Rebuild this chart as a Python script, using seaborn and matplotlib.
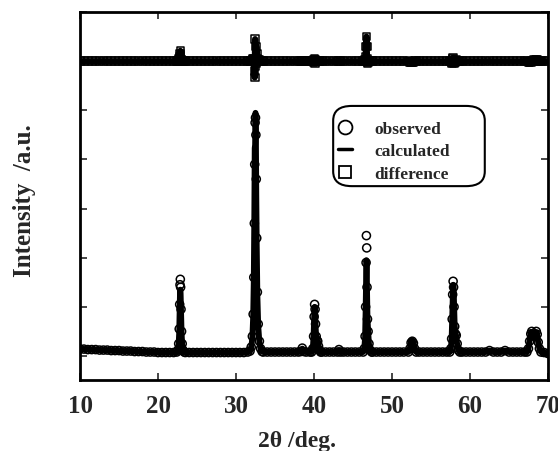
import pandas as pd
import matplotlib.pyplot as plt
import seaborn as sns
from matplotlib.lines import Line2D
from matplotlib.patches import FancyBboxPatch

# background between the peaks (2theta / intensity)
bg_theta = [10.0, 10.5, 11.0, 11.5, 12.0, 12.5, 13.0, 13.5, 14.0, 14.5, 15.0, 15.5,
            16.0, 16.5, 17.0, 17.5, 18.0, 18.5, 19.0, 19.5, 20.0, 20.5, 21.0, 21.5, 22.0,
            23.5, 24.0, 24.5, 25.0, 25.5, 26.0, 26.5, 27.0, 27.5, 28.0, 28.5, 29.0, 29.5,
            30.0, 30.5, 31.0, 31.5,
            33.5, 34.0, 34.5, 35.0, 35.5, 36.0, 36.5, 37.0, 37.5, 38.0,
            39.0, 39.5,
            41.0, 41.5, 42.0, 42.5,
            43.8, 44.3, 44.8, 45.3, 45.8,
            47.5, 48.0, 48.5, 49.0, 49.5, 50.0, 50.5, 51.0, 51.5,
            53.5, 54.0, 54.5, 55.0, 55.5, 56.0, 56.5, 57.0,
            59.0, 59.5, 60.0, 60.5, 61.0, 61.5, 62.0, 62.5, 63.0, 63.5, 64.0, 64.5,
            65.0, 65.5, 66.0, 66.5, 67.0,
            69.5, 70.0]
bg_obs = [0.14, 0.14, 0.13, 0.13, 0.13, 0.12, 0.12, 0.12, 0.11, 0.11, 0.11, 0.10,
          0.10, 0.10, 0.09, 0.09, 0.09, 0.08, 0.08, 0.08, 0.07, 0.07, 0.07, 0.07, 0.07,
          0.07, 0.07, 0.07, 0.07, 0.07, 0.07, 0.07, 0.07, 0.07, 0.07, 0.07, 0.07, 0.07,
          0.07, 0.07, 0.07, 0.08,
          0.08, 0.08, 0.08, 0.08, 0.08, 0.08, 0.08, 0.08, 0.08, 0.08,
          0.08, 0.08,
          0.08, 0.08, 0.08, 0.08,
          0.08, 0.08, 0.08, 0.08, 0.08,
          0.08, 0.08, 0.08, 0.08, 0.08, 0.08, 0.08, 0.08, 0.08,
          0.08, 0.08, 0.08, 0.08, 0.08, 0.08, 0.08, 0.08,
          0.08, 0.08, 0.08, 0.08, 0.08, 0.08, 0.08, 0.11, 0.08, 0.08, 0.08, 0.11,
          0.08, 0.08, 0.08, 0.08, 0.08,
          0.07, 0.05]

# peak regions: observed and calculated profile points
peak_theta = [22.40, 22.55, 22.65, 22.72, 22.78, 22.82, 22.86, 22.90, 22.95, 23.02, 23.10, 23.20, 23.35,
              31.80, 31.95, 32.10, 32.20, 32.28, 32.35, 32.40, 32.45, 32.50, 32.55, 32.60, 32.66,
              32.74, 32.85, 33.00, 33.15, 33.35,
              38.30, 38.50, 38.70,
              39.70, 39.85, 39.95, 40.02, 40.08, 40.14, 40.20, 40.28, 40.38, 40.48, 40.58, 40.70, 40.85,
              43.00, 43.20, 43.40,
              46.30, 46.45, 46.55, 46.62, 46.68, 46.72, 46.76, 46.80, 46.86, 46.94, 47.05, 47.20, 47.40,
              52.10, 52.30, 52.45, 52.60, 52.75, 52.90, 53.10,
              57.40, 57.55, 57.65, 57.72, 57.78, 57.84, 57.90, 57.96, 58.04, 58.14, 58.24, 58.36,
              58.50, 58.70,
              67.30, 67.50, 67.65, 67.80, 67.92, 68.05, 68.20, 68.35, 68.50, 68.62, 68.75, 68.90, 69.10]
peak_obs = [0.08, 0.12, 0.25, 0.55, 1.05, 1.45, 1.56, 1.40, 0.95, 0.50, 0.25, 0.12, 0.08,
            0.10, 0.18, 0.40, 0.85, 1.60, 2.70, 3.90, 4.75, 4.85, 4.50, 3.60, 2.40,
            1.30, 0.65, 0.30, 0.15, 0.09,
            0.09, 0.16, 0.09,
            0.08, 0.15, 0.40, 0.80, 1.05, 0.95, 0.65, 0.40, 0.32, 0.30, 0.20, 0.12, 0.08,
            0.08, 0.13, 0.08,
            0.08, 0.15, 0.40, 1.00, 1.90, 2.45, 2.20, 1.40, 0.75, 0.50, 0.25, 0.12, 0.08,
            0.08, 0.15, 0.27, 0.30, 0.26, 0.15, 0.08,
            0.08, 0.15, 0.35, 0.75, 1.25, 1.52, 1.40, 1.00, 0.60, 0.45, 0.42, 0.25,
            0.12, 0.08,
            0.08, 0.15, 0.30, 0.45, 0.50, 0.44, 0.40, 0.45, 0.50, 0.44, 0.28, 0.15, 0.08]
peak_calc = [0.07, 0.12, 0.24, 0.50, 0.95, 1.30, 1.35, 1.28, 0.92, 0.48, 0.24, 0.12, 0.07,
             0.10, 0.17, 0.38, 0.80, 1.55, 2.90, 4.23, 4.30, 4.95, 4.55, 3.30, 2.25,
             1.25, 0.62, 0.28, 0.15, 0.09,
             0.09, 0.15, 0.09,
             0.08, 0.15, 0.42, 0.78, 1.00, 0.98, 0.62, 0.40, 0.32, 0.29, 0.20, 0.12, 0.08,
             0.08, 0.12, 0.08,
             0.08, 0.15, 0.38, 0.92, 1.60, 1.95, 1.90, 1.35, 0.78, 0.52, 0.25, 0.12, 0.08,
             0.08, 0.16, 0.28, 0.32, 0.27, 0.14, 0.08,
             0.08, 0.15, 0.36, 0.78, 1.20, 1.45, 1.42, 1.05, 0.62, 0.47, 0.40, 0.24,
             0.12, 0.08,
             0.08, 0.16, 0.32, 0.47, 0.49, 0.43, 0.38, 0.45, 0.48, 0.42, 0.27, 0.15, 0.08]

diff_offset = 6.0
legend_labels = ["observed", "calculated", "difference"]


def build_data():
    bg = pd.DataFrame({"theta": bg_theta, "obs": bg_obs, "calc": bg_obs})
    pk = pd.DataFrame({"theta": peak_theta, "obs": peak_obs, "calc": peak_calc})
    df = pd.concat([bg, pk]).sort_values("theta").reset_index(drop=True)
    df["diff"] = df["obs"] - df["calc"] + diff_offset
    return df


def xrd_chart():
    df = build_data()
    sns.set_style("ticks")
    plt.rcParams["font.family"] = ["Liberation Serif", "DejaVu Serif"]
    plt.rcParams["font.weight"] = "bold"

    fig, ax = plt.subplots(figsize=(5.58, 4.52), dpi=100)
    fig.subplots_adjust(left=0.1434, right=0.982, bottom=0.157, top=0.971)

    # difference curve
    sns.lineplot(data=df, x="theta", y="diff", color="black", lw=4.5,
                 estimator=None, ax=ax, zorder=2)
    sns.scatterplot(data=df, x="theta", y="diff", marker="s", s=30,
                    facecolor="none", edgecolor="black", linewidth=1.1, ax=ax, zorder=3)
    # calculated line + observed circles
    sns.lineplot(data=df, x="theta", y="calc", color="black", lw=4.2,
                 estimator=None, ax=ax, zorder=2)
    sns.scatterplot(data=df, x="theta", y="obs", marker="o", s=34,
                    facecolor="none", edgecolor="black", linewidth=1.1, ax=ax, zorder=3)

    ax.set_xlim(10, 70)
    ax.set_ylim(-0.49, 7.0)
    ax.set_xticks(range(10, 71, 10))
    ax.set_yticks(range(0, 8))
    ax.tick_params(direction="in", top=True, right=True, length=5, width=1.2,
                   labelsize=18, pad=10, labelleft=False)
    for s in ax.spines.values():
        s.set_linewidth(2)
        s.set_color("black")

    ax.set_xlabel("2θ /deg.", fontsize=17, fontweight="bold")
    ax.xaxis.set_label_coords(0.464, -0.136)
    ax.set_ylabel("Intensity  /a.u.", fontsize=18, fontweight="bold")
    ax.yaxis.set_label_coords(-0.094, 0.49)

    # legend with a rounded box
    box = FancyBboxPatch((0.541, 0.527), 0.324, 0.218, transform=ax.transAxes,
                         boxstyle="round,pad=0,rounding_size=0.04",
                         facecolor="white", edgecolor="black", lw=1.5, zorder=4)
    ax.add_patch(box)
    handles = [
        Line2D([], [], marker="o", ls="none", mfc="white", mec="black", ms=10, mew=1.3),
        Line2D([], [], color="black", lw=2.5),
        Line2D([], [], marker="s", ls="none", mfc="white", mec="black", ms=9, mew=1.3),
    ]
    leg = ax.legend(handles, legend_labels, loc="upper left",
                    bbox_to_anchor=(0.551, 0.704),
                    prop={"weight": "bold", "size": 12.5, "family": "Liberation Serif"},
                    frameon=False, handlelength=0.8, handletextpad=1.3,
                    labelspacing=0.35, borderpad=0, borderaxespad=0)
    leg.set_zorder(5)

    plt.savefig("out.png", dpi=100)


xrd_chart()
